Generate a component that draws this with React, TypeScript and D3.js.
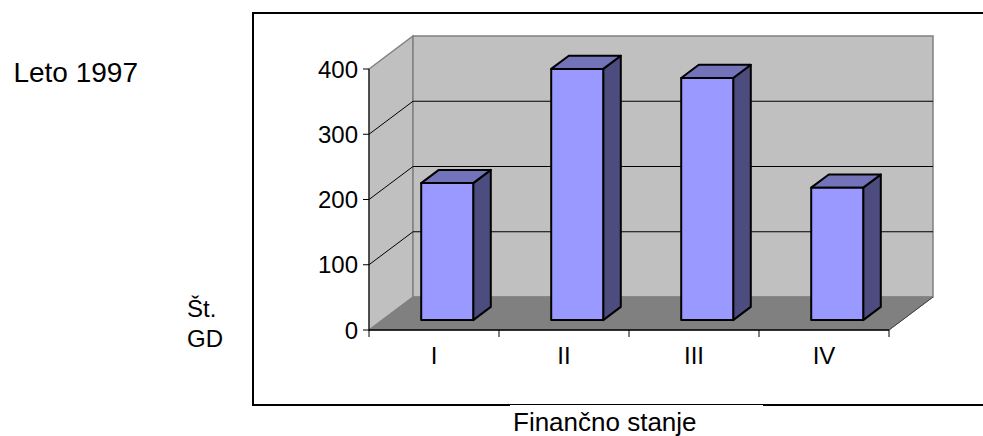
import React from "react";
import * as d3 from "d3";

// Number of GD per financial state, 1997
const categories = ["I", "II", "III", "IV"];
const counts = [210, 385, 371, 203];
const yTicks = [0, 100, 200, 300, 400];

const titleText = "Leto 1997";
const yTitleLines = ["Št.", "GD"];
const xTitle = "Finančno stanje";

const W = 983;
const H = 436;

// 3D box: front plane origin and depth vector
const x0 = 369;
const x1 = 889;
const yBase = 330;
const yTop = 69;
const DX = 44;
const DY = -33;
const BAR_D0 = 0.3; // bar front depth fraction
const BAR_D1 = 0.7; // bar back depth fraction

const FONT = "'Liberation Sans', Arial, sans-serif";

export default function App() {
  const x = d3.scaleBand<string>().domain(categories).range([x0, x1]).paddingInner(0).paddingOuter(0);
  const y = d3.scaleLinear().domain([0, 400]).range([yBase, yTop]);
  const bw = x.bandwidth() * 0.4;

  const pts = (arr: [number, number][]) => arr.map((p) => p.join(",")).join(" ");

  const leftWall: [number, number][] = [
    [x0, y(0)],
    [x0, y(400)],
    [x0 + DX, y(400) + DY],
    [x0 + DX, y(0) + DY],
  ];
  const backWall: [number, number][] = [
    [x0 + DX, y(400) + DY],
    [x1 + DX, y(400) + DY],
    [x1 + DX, y(0) + DY],
    [x0 + DX, y(0) + DY],
  ];
  const floor: [number, number][] = [
    [x0, y(0)],
    [x1, y(0)],
    [x1 + DX, y(0) + DY],
    [x0 + DX, y(0) + DY],
  ];

  const ticksX = [x0, ...categories.map((c) => (x(c) as number) + x.bandwidth())];

  return (
    <svg
      width={W}
      height={H}
      style={{ position: "absolute", left: 0, top: 0, background: "#fff" }}
      fontFamily={FONT}
    >
      {/* chart frame */}
      <rect x={253} y={13} width={W} height={392} fill="none" stroke="#000" strokeWidth={2} />

      {/* walls and floor */}
      <polygon points={pts(leftWall)} fill="#c0c0c0" stroke="#808080" strokeWidth={1.5} />
      <polygon points={pts(backWall)} fill="#c0c0c0" stroke="#808080" strokeWidth={1.5} />
      <polygon points={pts(floor)} fill="#808080" stroke="#808080" strokeWidth={1} />

      {/* gridlines */}
      {yTicks
        .filter((t) => t > 0 && t < 400)
        .map((t) => (
          <g key={"g" + t}>
            <line x1={x0} y1={y(t)} x2={x0 + DX} y2={y(t) + DY} stroke="#000" strokeWidth={1} />
            <line x1={x0 + DX} y1={y(t) + DY} x2={x1 + DX} y2={y(t) + DY} stroke="#000" strokeWidth={1} />
          </g>
        ))}

      {/* bars */}
      {categories.map((c, i) => {
        const bx = (x(c) as number) + (x.bandwidth() - bw) / 2 + BAR_D0 * DX;
        const by0 = y(0) + BAR_D0 * DY;
        const h = y(0) - y(counts[i]);
        const by1 = by0 - h;
        const ddx = (BAR_D1 - BAR_D0) * DX;
        const ddy = (BAR_D1 - BAR_D0) * DY;
        const top: [number, number][] = [
          [bx, by1],
          [bx + bw, by1],
          [bx + bw + ddx, by1 + ddy],
          [bx + ddx, by1 + ddy],
        ];
        const side: [number, number][] = [
          [bx + bw, by1],
          [bx + bw + ddx, by1 + ddy],
          [bx + bw + ddx, by0 + ddy],
          [bx + bw, by0],
        ];
        return (
          <g key={c} stroke="#000" strokeWidth={2} strokeLinejoin="round">
            <polygon points={pts(side)} fill="#4c4c7f" />
            <polygon points={pts(top)} fill="#7373b9" />
            <rect x={bx} y={by1} width={bw} height={h} fill="#9999ff" />
          </g>
        );
      })}

      {/* axes */}
      <line x1={x0} y1={y(0)} x2={x0} y2={y(400)} stroke="#000" strokeWidth={1} />
      <line x1={x0} y1={y(0)} x2={x1} y2={y(0)} stroke="#000" strokeWidth={1.5} />
      <line x1={x1} y1={y(0)} x2={x1 + DX} y2={y(0) + DY} stroke="#404040" strokeWidth={1} />
      {yTicks.map((t) => (
        <g key={"y" + t}>
          <line x1={x0 - 6} y1={y(t)} x2={x0} y2={y(t)} stroke="#000" strokeWidth={1} />
          <text x={x0 - 11} y={y(t)} dy="0.36em" textAnchor="end" fontSize={24} fill="#000">
            {t}
          </text>
        </g>
      ))}
      {ticksX.map((tx, i) => (
        <line key={"xt" + i} x1={tx} y1={y(0)} x2={tx} y2={y(0) + 7} stroke="#000" strokeWidth={1} />
      ))}
      {categories.map((c) => (
        <text
          key={"xl" + c}
          x={(x(c) as number) + x.bandwidth() / 2}
          y={364}
          textAnchor="middle"
          fontSize={24}
          fill="#000"
        >
          {c}
        </text>
      ))}

      {/* titles */}
      <text x={138} y={82} textAnchor="end" fontSize={28} fill="#000">
        {titleText}
      </text>
      {yTitleLines.map((s, i) => (
        <text key={s} x={187} y={317 + i * 30} fontSize={24} fill="#000">
          {s}
        </text>
      ))}
      <rect x={510} y={405} width={253} height={31} fill="#fff" />
      <text x={513} y={431} fontSize={26} fill="#000">
        {xTitle}
      </text>
    </svg>
  );
}
